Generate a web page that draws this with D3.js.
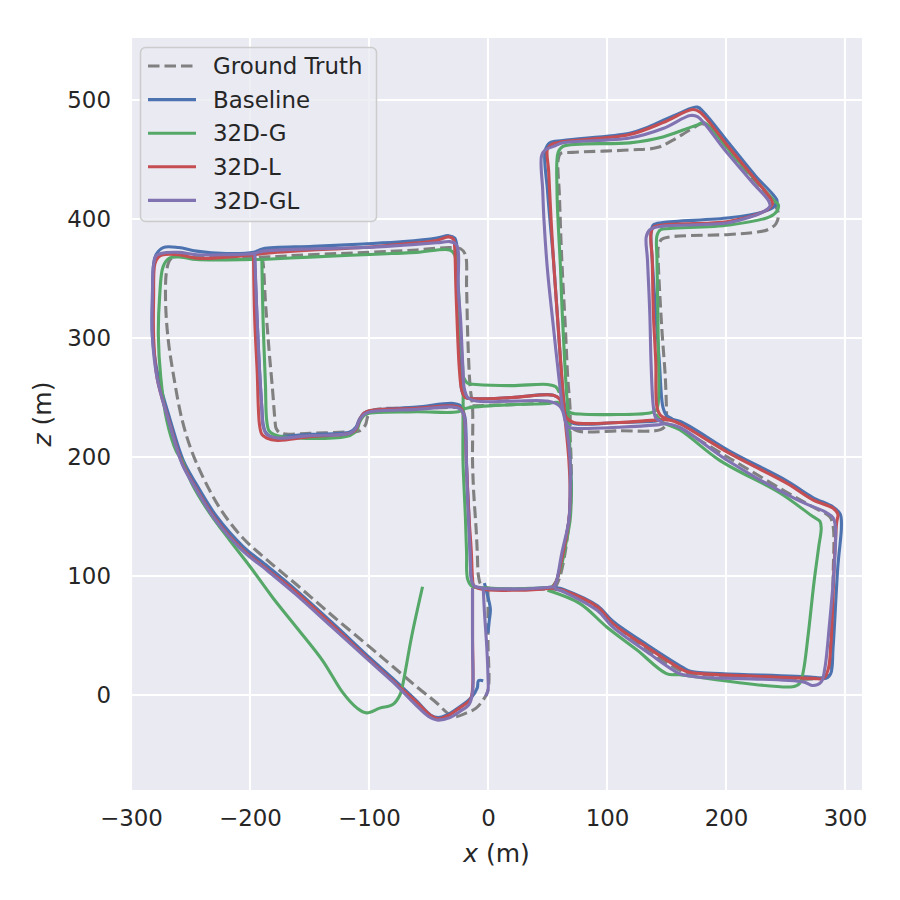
<!DOCTYPE html>
<html>
<head>
<meta charset="utf-8">
<script src="https://cdn.jsdelivr.net/npm/d3@7"></script>
<style>
  body { margin: 0; background: #fff; }
  text { font-family: "DejaVu Sans", sans-serif; fill: #262626; }
</style>
</head>
<body>
<div id="chart"></div>
<script>
/* trajectory plot in the x-z plane, seaborn darkgrid look */

const seriesNames = ["Ground Truth", "Baseline", "32D-G", "32D-L", "32D-GL"];
const seriesColors = ["#808080", "#4C72B0", "#55A868", "#C44E52", "#8172B2"];
const xTicks = [-300, -200, -100, 0, 100, 200, 300];
const zTicks = [0, 100, 200, 300, 400, 500];

// each track: [x, z] points in metres, null = pen up
const groundTruth = [
  [0,88],[0,45],[0,4],[-4,-4],[-10,-11],[-18,-15],[-29,-18],[-45,-5],[-60,7],[-80,24],[-99,40],[-130,66],[-160,92],[-185,113],[-206,132],[-224,155],[-238,180],[-249,205],[-257,231],[-264,267],[-269,301],[-271,334],[-270,357],[-267,366],[-260,369],[-230,368],[-190,368],[-150,370],[-99,372],[-60,374],[-32,376],[-23,375],[-19,370],[-18,343],[-17,301],[-15,259],[-13,242],[-13,197],[-12,170],[-10,140],[-9,120],[-8,100],[-6,93],[0,90],[30,89],[56,89],
  null,
  [-190,368],[-189,363],[-187,330],[-184,290],[-181,256],[-179,231],[-178,224],[-174,220],[-150,220],[-120,221],[-108,222],[-103,227],[-101,234],[-97,239],[-60,241],[-13,242],
  null,
  [-13,243],[20,244],[55,245],[62,244],[67,236],[70,226],[75,222],[110,222],[145,223],[150,227],
  null,
  [56,89],[60,98],[64,115],[67,135],[69,160],[70,190],[69,220],[69,240],[67,267],[65,309],[62,366],[60,420],[59,450],[61,455],[71,456],[119,458],[142,460],[155,466],[170,475],[180,480],[186,477],[210,448],[238,416],[244,405],[242,396],[235,391],[226,389],[203,387],[153,385],[146,383],[143,376],[143,366],[146,309],[149,267],[150,239],[150,230],
  null,
  [150,228],[162,223],[203,199],[250,171],[273,158],[287,150],[290,142],[290,100],[288,40],[287,20],[282,15],[200,16],[166,19],[157,23],[119,49],[92,72],[65,87],[56,89]
];

const baseline = [
  [-4,12],[-8,12],[-9,6],[-14,-2],[-24,-10],[-35,-17],[-42,-19],[-48,-17],[-60,-5],[-80,14],[-99,31],[-130,60],[-161,88],[-185,108],[-206,125],[-228,150],[-245,177],[-256,197],[-267,231],[-277,267],[-282,301],[-282,334],[-281,362],[-279,370],[-273,376],[-260,376],[-245,373],[-220,371],[-197,372],[-189,375],[-147,377],[-105,379],[-71,381],[-43,384],[-33,386],[-28,384],[-26,376],[-26,343],[-25,315],[-23,273],[-22,256],[-19,250],[-12,249],[20,250],[55,252],[61,248],[64,240],[67,231],[73,228],[110,229],[140,230],[150,232],[161,230],[203,205],[251,180],[273,166],[290,158],[296,152],[297,142],[294,108],[290,40],[288,18],[284,14],[273,15],[178,19],[170,20],[164,23],[134,42],[105,62],[92,75],[63,89],[56,91],[58,97],[63,119],[68,147],[70,170],[69,197],[66,230],[63,254],[59,309],[55,366],[52,400],[50,424],[48,457],[52,464],[63,466],[119,472],[134,477],[161,489],[176,494],[181,490],[203,463],[225,436],[240,420],[243,415],[240,410],[231,406],[203,401],[147,397],[139,395],[137,388],[138,366],[141,320],[144,280],[147,242],[150,235],[155,232],
  null,
  [-196,372],[-196,366],[-195,340],[-194,315],[-192,273],[-190,240],[-189,228],[-187,221],[-182,217],[-177,217],[-150,219],[-116,221],[-111,225],[-108,232],[-104,237],[-99,239],[-60,242],[-29,245],[-23,243],[-20,236],[-19,231],[-18,192],[-16,150],[-15,120],[-14,98],[-12,92],[-6,90],[20,89],[45,90],[56,91],
  null,
  [-3,94],[-1,86],[2,72],[1,62],[0,52]
];

const g32 = [
  [-190,366],[-190,364],[-189,315],[-187,260],[-186,231],[-184,222],[-180,219],[-161,216],[-116,218],[-110,223],[-108,229],[-104,235],[-99,237],[-60,238],[-25,238],[-18,241],[20,244],[50,245],[58,246],[62,244],[66,240],[70,237],[80,236],[136,237],[141,239],[143,245],[143,300],[142,366],[142,386],[145,391],[153,392],[203,395],[237,402],[243,407],[244,412],[240,416],[209,450],[181,481],[176,479],[170,477],[147,469],[119,464],[63,461],[59,456],[58,424],[61,357],[62,330],[63,309],[66,254],[68,230],[69,197],[70,170],[69,147],[66,130],[62,110],[57,95],[53,90],
  null,
  [-190,366],[-197,366],[-245,366],[-258,368],[-268,367],[-273,360],[-276,334],[-277,301],[-275,267],[-270,231],[-262,205],[-257,197],[-249,178],[-234,153],[-217,130],[-200,108],[-181,82],[-161,57],[-139,29],[-122,2],[-110,-11],[-102,-15],[-91,-11],[-80,-8],[-74,0],[-72,7],[-64,50],[-55,91],
  null,
  [-190,366],[-150,368],[-105,370],[-60,372],[-32,374],[-28,370],[-25,343],[-23,300],[-21,270],[-21,231],[-21,197],[-19,150],[-18,120],[-17,97],[-13,91],[0,90],[20,89],[45,90],[53,90],
  null,
  [-21,268],[-17,262],[-10,261],[20,260],[50,261],[57,259],[60,254],
  null,
  [141,236],[147,229],[161,223],[195,197],[245,170],[273,150],[279,146],[280,140],[278,125],[274,95],[269,50],[265,20],[262,10],[256,7],[161,17],[150,18],[125,38],[100,57],[77,77],[50,88]
];

const l32 = [
  [-13,88],[-13,50],[-13,5],[-15,-4],[-24,-11],[-33,-17],[-41,-20],[-47,-18],[-60,-6],[-80,12],[-100,30],[-131,59],[-162,87],[-186,106],[-207,123],[-229,148],[-246,175],[-257,195],[-268,230],[-278,266],[-281,301],[-281,334],[-280,362],[-277,368],[-273,370],[-260,370],[-245,367],[-220,368],[-197,370],[-189,371],[-147,374],[-105,376],[-71,379],[-43,382],[-33,385],[-29,383],[-28,376],[-27,343],[-26,315],[-24,273],[-22,256],[-19,250],[-12,249],[20,250],[55,252],[60,249],[63,242],[66,233],[72,229],[110,229],[142,231],[153,231],[161,228],[203,203],[251,178],[273,164],[290,157],[294,152],[293,145],[291,110],[288,40],[286,22],[282,14],[273,14],[178,18],[170,19],[164,21],[134,40],[105,60],[92,74],[63,88],[55,90],[58,97],[63,119],[68,147],[69,170],[68,197],[65,230],[63,254],[59,309],[55,366],[53,400],[51,440],[50,459],[54,463],[63,465],[119,471],[147,481],[172,492],[178,490],[201,462],[224,434],[237,418],[239,413],[235,408],[203,398],[147,395],[139,393],[137,388],[138,366],[139,320],[141,280],[142,242],[145,235],[153,231],
  null,
  [-197,370],[-197,366],[-196,315],[-194,273],[-192,227],[-190,219],[-186,216],[-177,214],[-150,217],[-116,220],[-111,223],[-108,231],[-104,237],[-99,239],[-60,241],[-30,243],[-23,241],[-20,234],[-19,220],[-18,192],[-16,150],[-14,120],[-13,98],[-12,92],[-6,89],[20,88],[45,89],[55,90]
];

const gl32 = [
  [-13,90],[-13,40],[-13,2],[-16,-8],[-24,-14],[-32,-19],[-43,-21],[-50,-18],[-62,-7],[-80,11],[-99,28],[-131,57],[-162,85],[-186,105],[-207,122],[-229,147],[-246,174],[-257,194],[-268,229],[-278,266],[-282,301],[-282,334],[-281,362],[-279,369],[-275,371],[-260,372],[-245,370],[-220,370],[-197,371],[-189,373],[-147,375],[-105,376],[-71,378],[-43,380],[-32,381],[-27,379],[-25,373],[-25,343],[-23,315],[-21,273],[-20,258],[-17,250],[-10,247],[20,247],[50,247],[60,243],[63,238],[65,230],[68,225],[75,224],[110,225],[142,227],[150,228],[161,225],[203,196],[260,164],[285,153],[290,149],[292,141],[291,108],[287,60],[283,22],[280,11],[273,8],[265,11],[178,15],[170,16],[161,18],[134,36],[105,57],[92,71],[63,87],[56,90],[58,97],[62,119],[68,147],[69,170],[69,197],[66,225],[63,239],[61,254],[55,309],[50,357],[47,400],[46,424],[45,453],[48,458],[55,461],[63,464],[119,468],[147,476],[170,487],[176,486],[199,458],[222,431],[236,415],[237,411],[233,407],[203,397],[147,394],[136,391],[133,385],[134,366],[136,320],[137,280],[139,242],[141,233],[147,229],
  null,
  [-196,371],[-195,340],[-194,315],[-192,273],[-190,240],[-189,226],[-186,219],[-177,216],[-150,218],[-116,220],[-111,224],[-108,231],[-104,236],[-99,238],[-60,240],[-29,242],[-23,240],[-20,234],[-19,225],[-18,192],[-17,160],[-15,120],[-14,98],[-12,92],[-5,90],[20,89],[45,90],[56,91],
  null,
  [-4,90],[-3,70],[-1,40],[0,15],[0,4],[-2,-1]
];

const tracks = [groundTruth, baseline, g32, l32, gl32];

const width = 900,
      height = 900,
      margin = ({ top: 38, right: 38, bottom: 110, left: 131 });

let svg = d3.select("#chart")
    .append("svg")
    .attr("width", width)
    .attr("height", height);

// equal aspect: 1.19 px per metre on both axes
let x = d3.scaleLinear()
    .domain([-300, 314.3])
    .range([margin.left, width - margin.right]);

let y = d3.scaleLinear()
    .domain([-79.8, 552.1])
    .range([height - margin.bottom, margin.top]);

const fmt = d => d < 0 ? "\u2212" + Math.abs(d) : String(d);

svg.append("rect")
    .attr("x", margin.left)
    .attr("y", margin.top)
    .attr("width", width - margin.left - margin.right)
    .attr("height", height - margin.top - margin.bottom)
    .attr("fill", "#EAEAF2");

svg.append("clipPath")
    .attr("id", "plot")
    .append("rect")
    .attr("x", margin.left)
    .attr("y", margin.top)
    .attr("width", width - margin.left - margin.right)
    .attr("height", height - margin.top - margin.bottom);

// grid
svg.append("g")
    .selectAll("line")
    .data(xTicks)
    .join("line")
    .attr("x1", d => x(d)).attr("x2", d => x(d))
    .attr("y1", margin.top).attr("y2", height - margin.bottom)
    .attr("stroke", "#fff")
    .attr("stroke-width", 2.1);

svg.append("g")
    .selectAll("line")
    .data(zTicks)
    .join("line")
    .attr("y1", d => y(d)).attr("y2", d => y(d))
    .attr("x1", margin.left).attr("x2", width - margin.right)
    .attr("stroke", "#fff")
    .attr("stroke-width", 2.1);

const xAxis = g => g
    .attr("transform", `translate(0, ${height - margin.bottom})`)
    .call(d3.axisBottom(x).tickValues(xTicks).tickSize(0).tickPadding(20).tickFormat(fmt))
    .call(g => g.select(".domain").remove());

const yAxis = g => g
    .attr("transform", `translate(${margin.left}, 0)`)
    .call(d3.axisLeft(y).tickValues(zTicks).tickSize(0).tickPadding(20).tickFormat(fmt))
    .call(g => g.select(".domain").remove());

svg.append("g").call(xAxis);
svg.append("g").call(yAxis);

svg.selectAll(".tick text")
    .attr("font-family", "DejaVu Sans, sans-serif")
    .attr("font-size", "22.9px")
    .attr("fill", "#262626");

// axis titles
let xl = svg.append("text")
    .attr("x", (margin.left + width - margin.right) / 2)
    .attr("y", 862)
    .attr("text-anchor", "middle")
    .attr("font-size", "25px");
xl.append("tspan").attr("font-style", "italic").text("x");
xl.append("tspan").text(" (m)");

let zl = svg.append("text")
    .attr("transform", `translate(51, ${(margin.top + height - margin.bottom) / 2}) rotate(-90)`)
    .attr("text-anchor", "middle")
    .attr("font-size", "25px");
zl.append("tspan").attr("font-style", "italic").text("z");
zl.append("tspan").text(" (m)");

// trajectories
const line = d3.line()
    .defined(d => d !== null)
    .x(d => x(d[0]))
    .y(d => y(d[1]))
    .curve(d3.curveCatmullRom.alpha(0.5));

svg.append("g")
    .attr("clip-path", "url(#plot)")
    .selectAll("path")
    .data(tracks)
    .join("path")
    .attr("d", d => line(d))
    .attr("fill", "none")
    .attr("stroke", (d, i) => seriesColors[i])
    .attr("stroke-width", 3.1)
    .attr("stroke-linejoin", "round")
    .attr("stroke-dasharray", (d, i) => i === 0 ? "11.5,5" : null);

// legend
let legend = svg.append("g");

legend.append("rect")
    .attr("x", 140.5)
    .attr("y", 47.5)
    .attr("width", 236)
    .attr("height", 174)
    .attr("rx", 5)
    .attr("fill", "#EAEAF2")
    .attr("fill-opacity", 0.8)
    .attr("stroke", "#CCCCCC")
    .attr("stroke-width", 1.5);

let item = legend.selectAll(".item")
    .data(seriesNames)
    .join("g")
    .attr("class", "item")
    .attr("transform", (d, i) => `translate(0, ${66 + i * 33.6})`);

item.append("line")
    .attr("x1", 148).attr("x2", 196)
    .attr("stroke", (d, i) => seriesColors[i])
    .attr("stroke-width", 3.1)
    .attr("stroke-dasharray", (d, i) => i === 0 ? "11.5,5" : null);

item.append("text")
    .attr("x", 213)
    .attr("dy", "0.36em")
    .attr("font-size", "22.9px")
    .text(d => d);
</script>
</body>
</html>
